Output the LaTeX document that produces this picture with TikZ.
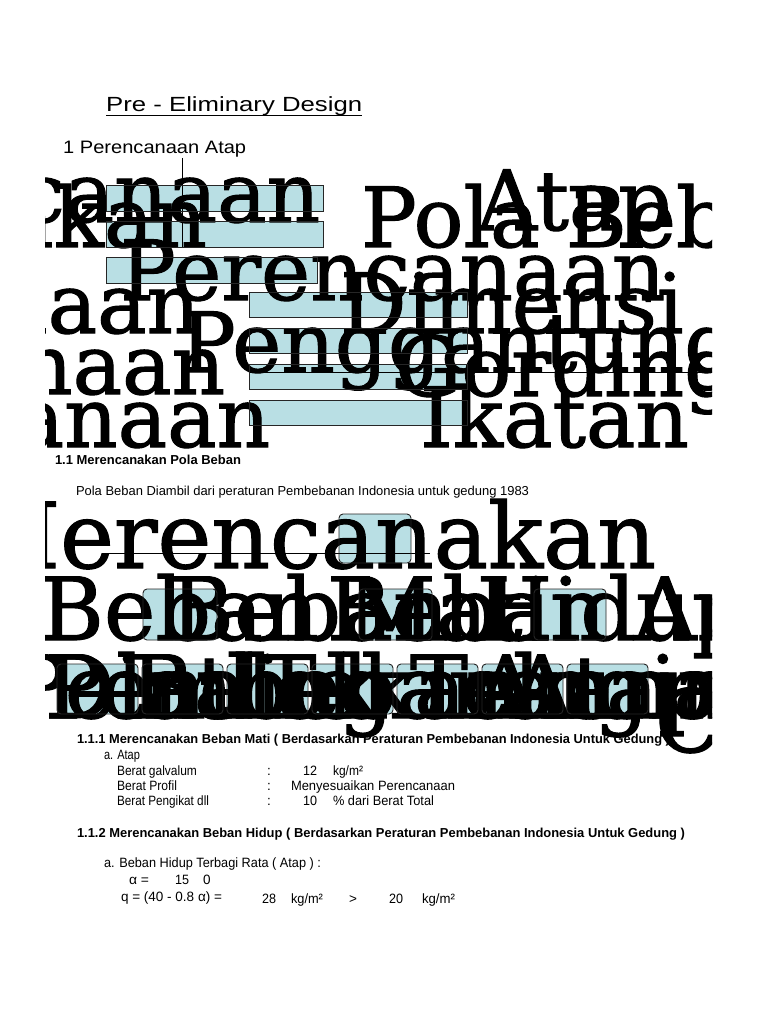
\documentclass[tikz,border=0pt]{standalone}
\usepackage{fontspec}
\usepackage{graphicx}
\newfontfamily\bigserif[FakeBold=1.3]{DejaVu Serif}
\newfontfamily\arialf{Liberation Sans}
\definecolor{boxblue}{RGB}{185,223,228}
\newcommand{\fw}[2]{\resizebox{#1pt}{\height}{#2}}
\begin{document}
\begin{tikzpicture}[x=1pt,y=-1pt,
  fillbox/.style={fill=boxblue,draw=none,inner sep=0pt,outer sep=0pt,anchor=north west},
  edgebox/.style={draw=black!85,line width=0.9pt},
  bigtext/.style={inner sep=0pt,outer sep=0pt,anchor=base west,font=\bigserif\fontsize{83}{83}\selectfont},
  bigtextb/.style={inner sep=0pt,outer sep=0pt,anchor=base west,font=\bigserif\fontsize{87}{87}\selectfont},
  smalltext/.style={inner sep=0pt,outer sep=0pt,anchor=base west,font=\arialf\fontsize{13.5}{16}\selectfont},
  boldtext/.style={inner sep=0pt,outer sep=0pt,anchor=base west,font=\arialf\bfseries\fontsize{13}{16}\selectfont},
  conn/.style={draw=black,line width=1pt}]
\useasboundingbox (0,0) rectangle (768,1024);
\fill[white] (0,0) rectangle (768,1024);

% ---------- titles ----------
\node[inner sep=0pt,anchor=base west,font=\arialf\fontsize{20.5}{24}\selectfont] (title) at (106,112) {\fw{256}{Pre - Eliminary Design}};
\draw[line width=1pt] ([yshift=-3.5pt]title.base west) -- ([yshift=-3.5pt]title.base east);
\node[inner sep=0pt,anchor=base west,font=\arialf\fontsize{18}{21}\selectfont] (head1) at (63,154) {\fw{183}{1 Perencanaan Atap}};

% ---------- top chart ----------
\coordinate (c1) at (182,158);
\node[fillbox,minimum width=217pt,minimum height=26pt] (A) at (106,185) {};
\node[fillbox,minimum width=217pt,minimum height=26pt] (B) at (106,221) {};
\draw[conn] (c1) -- (c1 |- B.south);
\node[fillbox,minimum width=211pt,minimum height=26pt] (C) at (106,257) {};
\node[fillbox,minimum width=218pt,minimum height=25pt] (D) at (249,292) {};
\node[fillbox,minimum width=218pt,minimum height=25pt] (E) at (249,328) {};
\node[fillbox,minimum width=218pt,minimum height=25pt] (F) at (249,364) {};
\node[fillbox,minimum width=218pt,minimum height=25pt] (G) at (249,400) {};

% ---------- small text (under the big text) ----------
\node[boldtext] (h11) at (55,464) {\fw{186}{1.1 Merencanakan Pola Beban}};
\node[smalltext,font=\arialf\fontsize{13}{15}\selectfont] (pola) at (76,495) {\fw{453}{Pola Beban Diambil dari peraturan Pembebanan Indonesia untuk gedung 1983}};

% ---------- second chart fills ----------
\node[fillbox,rounded corners=4pt,minimum width=72pt,minimum height=49pt] (R) at (339,514) {};
\node[fillbox,rounded corners=4pt,minimum width=74pt,minimum height=51pt] (S1) at (143,589) {};
\node[fillbox,rounded corners=4pt,minimum width=73pt,minimum height=51pt] (S2) at (359,589) {};
\node[fillbox,rounded corners=4pt,minimum width=72pt,minimum height=51pt] (S3) at (534,589) {};
\foreach \i in {0,...,6}{
  \node[fillbox,rounded corners=4pt,minimum width=81pt,minimum height=50pt] (T\i) at (57+85*\i,664) {};
}

% ---------- headings that big glyphs run over ----------
\node[boldtext] (h111) at (77,743) {\fw{593}{1.1.1 Merencanakan Beban Mati ( Berdasarkan Peraturan Pembebanan Indonesia Untuk Gedung )}};

% ---------- big overflowing text ----------
\begin{scope}
\clip (45,0) rectangle (712,1024);
\node[bigtext,anchor=base east] (t1) at (320,222) {Perencanaan};
\node[bigtext] (t2) at (477,230) {Atap};
\node[bigtext,anchor=base east] (t3) at (207,247) {Merencanakan};
\node[bigtext] (t4) at (361,247) {Pola Beban};
\node[bigtext] (t5) at (120,300) {Perencanaan};
\node[bigtext,anchor=base east] (t6) at (200,333) {Perencanaan};
\node[bigtext] (t7) at (340,333) {Dimensi};
\node[bigtext] (t8) at (180,372) {Penggantung};
\node[bigtext,anchor=base east] (t9) at (225,394) {Perencanaan};
\node[bigtext] (t10) at (395,396) {Gording};
\node[bigtext,anchor=base east] (t11) at (270,447) {Perencanaan};
\node[bigtext] (t12) at (420,447) {Ikatan};

\node[bigtextb,anchor=base east,font=\bigserif\fontsize{91}{91}\selectfont] (m1) at (656,568) {Merencanakan};
\node[bigtextb] (m2) at (40,640) {Beban Mati};
\node[bigtextb] (m3) at (170,640) {Beban Hidup};
\node[bigtextb] (m4) at (327,640) {Beban Angin};

\node[bigtextb] (n1) at (45,718) {Pembebanan};
\node[bigtextb] (n2) at (130,718) {Balok};
\node[bigtextb] (n3) at (45,718) {Dinding};
\node[bigtextb] (n4) at (10,718) {Pelat Tekan};
\node[bigtextb] (n5) at (410,718) {Tekanan};
\node[bigtextb] (n6) at (475,718) {Angin};
\node[bigtextb] (n7) at (510,718) {Atap};
\node[bigtextb] (n8) at (655,752) {C};
\end{scope}

% ---------- connectors / edges on top ----------
\coordinate (l1) at (249,372);
\coordinate (l2) at (703,372);
\draw[line width=1pt] (l1) -- (l2);
\foreach \n in {A,B,C,D,E,F,G}{
  \draw[edgebox] (\n.north west) rectangle (\n.south east);
}
\coordinate (h1) at (107,553);
\coordinate (h2) at (430,553);
\draw[line width=1pt] (h1) -- (h2);
\foreach \n in {R,S1,S2,S3,T0,T1,T2,T3,T4,T5,T6}{
  \draw[edgebox,rounded corners=4pt] (\n.north west) rectangle (\n.south east);
}

% ---------- lower text ----------
\node[smalltext] (aatap) at (104,759) {\fw{36}{a. Atap}};
\node[smalltext] (bg) at (117,775) {\fw{80}{Berat galvalum}};
\node[smalltext] (bgc) at (267,775) {:};
\node[smalltext] (bgv) at (303,775) {\fw{14}{12}};
\node[smalltext] (bgu) at (333,775) {\fw{30}{kg/m²}};
\node[smalltext] (bp) at (117,790) {\fw{60}{Berat Profil}};
\node[smalltext] (bpc) at (267,790) {:};
\node[smalltext] (bpv) at (291,790) {\fw{164}{Menyesuaikan Perencanaan}};
\node[smalltext] (bk) at (117,805) {\fw{92}{Berat Pengikat dll}};
\node[smalltext] (bkc) at (267,805) {:};
\node[smalltext] (bkv) at (303,805) {\fw{14}{10}};
\node[smalltext] (bku) at (333,805) {\fw{101}{\% dari Berat Total}};
\node[boldtext] (h112) at (77,837) {\fw{608}{1.1.2 Merencanakan Beban Hidup ( Berdasarkan Peraturan Pembebanan Indonesia Untuk Gedung )}};
\node[smalltext] (bh) at (104,867) {\fw{217}{a. Beban Hidup Terbagi Rata ( Atap ) :}};
\node[smalltext] (al) at (129,884) {\fw{20}{α =}};
\node[smalltext] (alv) at (175,884) {\fw{14}{15}};
\node[smalltext] (alz) at (203,884) {0};
\node[smalltext] (q) at (121,901) {\fw{101}{q = (40 - 0.8 α) =}};
\node[smalltext] (qv) at (262,903) {\fw{14}{28}};
\node[smalltext] (qu) at (291,903) {\fw{32}{kg/m²}};
\node[smalltext] (qg) at (349,903) {>};
\node[smalltext] (qv2) at (389,903) {\fw{14}{20}};
\node[smalltext] (qu2) at (422,903) {\fw{33}{kg/m²}};
\end{tikzpicture}
\end{document}
